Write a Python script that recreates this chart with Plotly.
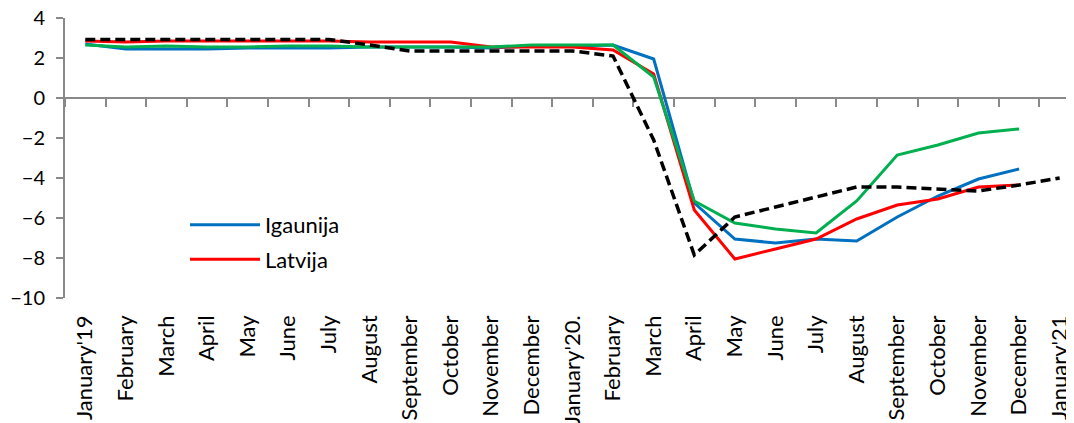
import plotly.graph_objects as go

months = ["January'19", "February", "March", "April", "May", "June", "July", "August",
          "September", "October", "November", "December", "January'20.", "February", "March",
          "April", "May", "June", "July", "August", "September", "October", "November",
          "December", "January'21"]
# unique keys for the category axis (month names repeat)
keys = [f"{i:02d}_{m}" for i, m in enumerate(months)]

igaunija = [2.7, 2.45, 2.45, 2.45, 2.5, 2.5, 2.5, 2.55, 2.55, 2.55, 2.5, 2.6, 2.6, 2.65, 1.95,
            -5.25, -7.05, -7.25, -7.05, -7.15, -5.95, -4.9, -4.05, -3.55, None]
latvija = [2.85, 2.8, 2.85, 2.85, 2.85, 2.85, 2.85, 2.8, 2.8, 2.8, 2.55, 2.55, 2.55, 2.4, 1.2,
           -5.6, -8.05, -7.55, -7.05, -6.05, -5.35, -5.05, -4.45, -4.35, None]
lietuva = [2.65, 2.55, 2.6, 2.55, 2.55, 2.6, 2.6, 2.55, 2.55, 2.55, 2.55, 2.65, 2.65, 2.65, 1.05,
           -5.15, -6.25, -6.55, -6.75, -5.15, -2.85, -2.35, -1.75, -1.55, None]
eiro_zona = [2.93, 2.93, 2.93, 2.93, 2.93, 2.93, 2.93, 2.65, 2.35, 2.35, 2.35, 2.35, 2.35, 2.1, -2.1,
             -7.85, -5.95, -5.45, -4.95, -4.45, -4.45, -4.55, -4.65, -4.35, -4.0]

FONT = "Lato"
AXIS_GREY = "#898989"

fig = go.Figure()
fig.add_trace(go.Scatter(x=keys, y=igaunija, mode="lines", name="Igaunija", legendgroup="a",
                         line=dict(color="#0070C0", width=3)))
fig.add_trace(go.Scatter(x=keys, y=latvija, mode="lines", name="Latvija", legendgroup="b",
                         line=dict(color="#FF0000", width=3)))
fig.add_trace(go.Scatter(x=keys, y=lietuva, mode="lines", name="Lietuva", showlegend=False,
                         line=dict(color="#00B050", width=3)))
# on the overlay axis so that it carries the tick marks along the zero line
fig.add_trace(go.Scatter(x=keys, y=eiro_zona, mode="lines", name="Eiro zona", showlegend=False,
                         xaxis="x2", line=dict(color="black", width=3.5, dash="10px,5px")))

xr = [-0.5, 24.55]
fig.update_layout(
    width=1074, height=423,
    margin=dict(l=57, r=0, t=10, b=133),
    paper_bgcolor="white", plot_bgcolor="white",
    font=dict(family=FONT, size=22, color="black"),
    showlegend=True,
    legend=dict(x=0.118, y=0.336, xanchor="left", yanchor="top", bgcolor="rgba(0,0,0,0)",
                font=dict(size=22), itemwidth=70, tracegroupgap=3),
    xaxis=dict(type="category", range=xr, tickmode="array", tickvals=keys, ticktext=months,
               tickangle=-90, showline=False, ticks="", showgrid=False, zeroline=False,
               ticklabelstandoff=12, automargin=False, ticklabeloverflow="allow"),
    xaxis2=dict(type="category", overlaying="x", anchor="free", position=10 / 14, side="bottom",
                range=xr, showline=True, linecolor=AXIS_GREY, linewidth=2, ticks="outside",
                ticklen=8, tickwidth=2, tickcolor=AXIS_GREY, tickson="boundaries",
                showticklabels=False, showgrid=False, zeroline=False, layer="below traces"),
    yaxis=dict(range=[-10, 4], dtick=2, showline=True, linecolor=AXIS_GREY, linewidth=2,
               ticks="outside", ticklen=7, tickwidth=2, tickcolor=AXIS_GREY, showgrid=False,
               zeroline=False, ticklabelstandoff=7, automargin=False, ticklabeloverflow="allow",
               tickfont=dict(size=20)),
)

fig.write_html("out.html")
